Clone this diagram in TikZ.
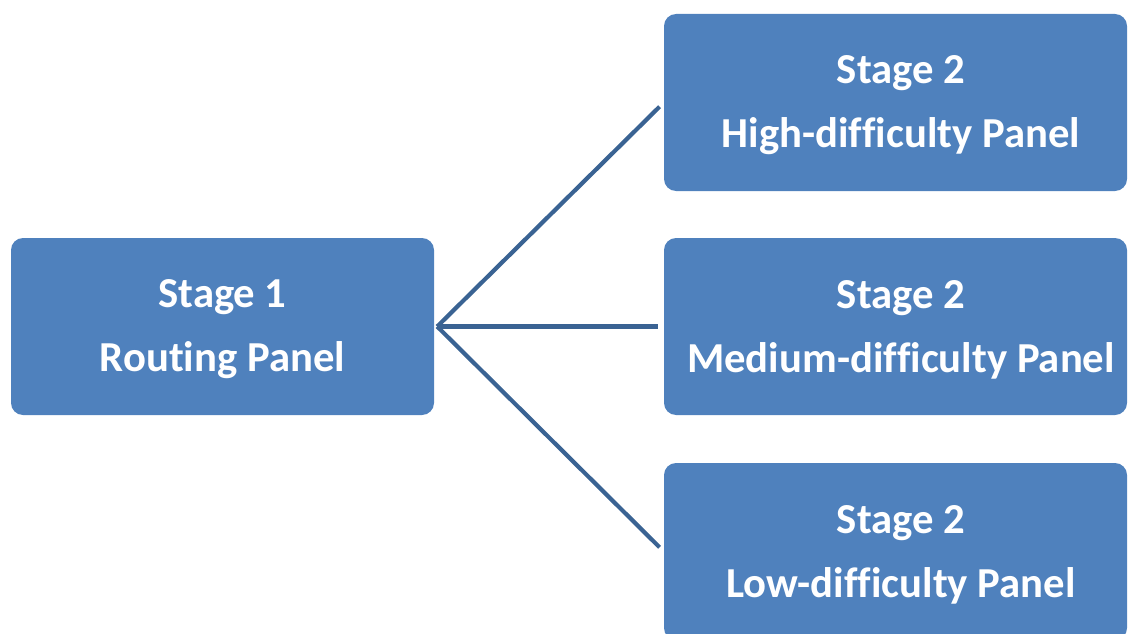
\documentclass[tikz,border=0pt]{standalone}
\usepackage{fontspec}
\setmainfont[Ligatures=NoCommon]{Carlito}
\definecolor{boxblue}{HTML}{4F81BD}
\definecolor{lineblue}{HTML}{3A6393}
\begin{document}
\begin{tikzpicture}[x=1pt,y=-1pt,
  panel/.style={fill=boxblue, draw=none, rounded corners=12pt, minimum width=#1,
    minimum height=177pt, inner sep=0pt},
  label/.style={text=white, font=\fontsize{42.7}{64}\selectfont\bfseries, align=center},
  link/.style={draw=lineblue, line width=4.2pt}]
\useasboundingbox (0,0) rectangle (1128,634);
\begin{scope}
\clip (0,0) rectangle (1128,634);
\node[panel=423pt] (s1) at (222.5,326.5) {};
\node[panel=463pt] (hi) at (895.5,102.5) {};
\node[panel=463pt] (me) at (895.5,326.5) {};
\node[panel=463pt] (lo) at (895.5,551.5) {};
\node[label] (s1t) at (222.5,329.5) {Stage 1\\Routing Panel};
\node[label] (hit) at (901,105.5) {Stage 2\\High-difficulty Panel};
\node[label] (met) at (901,329.5) {Stage 2\\Medium-difficulty Panel};
\node[label] (lot) at (901,554.5) {Stage 2\\Low-difficulty Panel};
\coordinate (src) at ([xshift=3pt]s1.east);
\draw[link, shorten >=6pt] (src) -- (hi.west);
\draw[link, shorten >=6pt] (src) -- (me.west);
\draw[link, shorten >=6pt] (src) -- (lo.west);
\end{scope}
\end{tikzpicture}
\end{document}
